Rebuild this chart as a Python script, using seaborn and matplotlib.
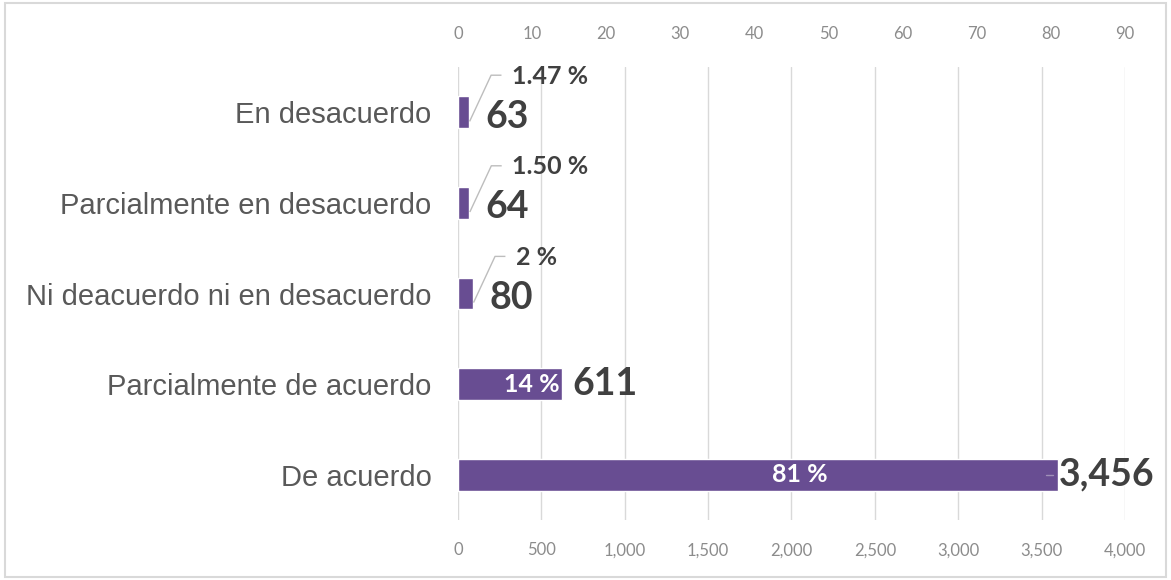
import matplotlib
matplotlib.use("Agg")
import matplotlib.pyplot as plt
from matplotlib.patches import Rectangle
from matplotlib.ticker import FuncFormatter
import numpy as np
import pandas as pd
import seaborn as sns

# ---------------- data ----------------
categories = ["En desacuerdo", "Parcialmente en desacuerdo",
              "Ni deacuerdo ni en desacuerdo", "Parcialmente de acuerdo", "De acuerdo"]
counts = [63, 64, 80, 611, 3456]
percents = [1.47, 1.50, 2, 14, 81]
pct_labels = ["1.47 %", "1.50 %", "2 %", "14 %", "81 %"]
count_ticks = [0, 500, 1000, 1500, 2000, 2500, 3000, 3500, 4000]
pct_ticks = [0, 10, 20, 30, 40, 50, 60, 70, 80, 90]

df = pd.DataFrame({"cat": categories, "pct": percents, "count": counts})

sns.set_theme(style="white")
plt.rcParams["font.family"] = ["Lato", "DejaVu Sans"]

BAR = "#684D92"
DARK = "#404040"
TICK = "#8c8c8c"
GRID = "#d9d9d9"
LEAD = "#bdbdbd"

fig = plt.figure(figsize=(11.71, 5.8), dpi=100)
ax = fig.add_axes([0.3911, 0.1034, 0.5696, 0.781])

# bottom axis: counts (gridlines)
ax.set_xlim(count_ticks[0], count_ticks[-1])
ax.set_xticks(count_ticks)
ax.xaxis.set_major_formatter(FuncFormatter(lambda v, p: f"{int(v):,}"))
ax.grid(axis="x", color=GRID, lw=1)
ax.grid(axis="y", visible=False)
ax.set_axisbelow(True)
ax.tick_params(axis="x", length=0, pad=16, labelsize=12, labelcolor=TICK)

# top axis: percent, bars
axp = ax.twiny()
sns.barplot(data=df, x="pct", y="cat", ax=axp, color=BAR, width=0.35,
            orient="h", saturation=1)
axp.set_xlim(pct_ticks[0], pct_ticks[-1])
axp.set_xticks(pct_ticks)
axp.xaxis.tick_top()
axp.tick_params(axis="x", length=0, pad=18, labelsize=12, labelcolor=TICK)
axp.set_xlabel("")
axp.set_ylabel("")
axp.grid(False)

ax.set_ylim(4.5, -0.5)
ax.set_yticks(range(len(categories)))
ax.set_yticklabels(categories, fontsize=21, color="#595959", family="Liberation Sans")
ax.tick_params(axis="y", length=0, pad=19)
ax.set_ylabel("")
for a in (ax, axp):
    for s in a.spines.values():
        s.set_visible(False)

# data labels
for i, (v, c, pl) in enumerate(zip(percents, counts, pct_labels)):
    if v < 5:
        axp.plot([v + 0.1, v + 3.0, v + 4.4], [i + 0.1, i - 0.41, i - 0.41],
                 color=LEAD, lw=1, solid_capstyle="butt")
        axp.text(v + 5.8, i - 0.40, pl, ha="left", va="center", fontsize=18,
                 fontweight="bold", color=DARK)
        axp.text(v + 2.2, i + 0.05, f"{c:,}", ha="left", va="center", fontsize=27,
                 fontweight="bold", color=DARK)
    elif v < 50:
        axp.text(v - 0.3, i, pl, ha="right", va="center", fontsize=18,
                 fontweight="bold", color="white")
        axp.text(v + 1.5, i, f"{c:,}", ha="left", va="center", fontsize=27,
                 fontweight="bold", color=DARK)
    else:
        axp.text(v * 0.57, i, pl, ha="center", va="center", fontsize=18,
                 fontweight="bold", color="white")
        axp.plot([v - 1.6, v - 0.7], [i, i], color="#a090b8", lw=1)
        axp.text(v + 0.1, i, f"{c:,}", ha="left", va="center", fontsize=27,
                 fontweight="bold", color=DARK)

fig.patches.append(Rectangle((0.004, 0.006), 0.992, 0.988, transform=fig.transFigure,
                             fill=False, edgecolor=GRID, lw=1.5))

fig.savefig("out.png", dpi=100, facecolor="white")
